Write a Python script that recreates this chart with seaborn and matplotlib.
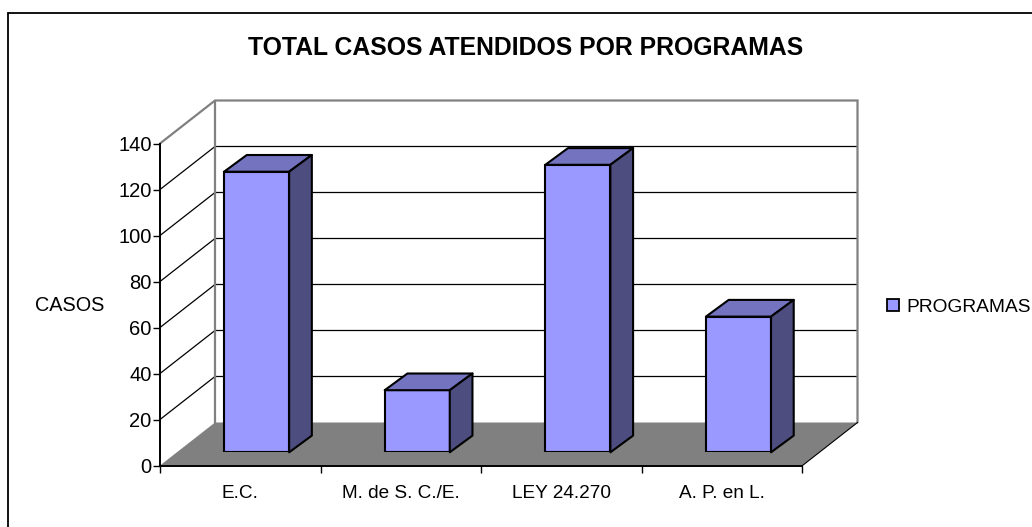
import matplotlib
matplotlib.use("Agg")
import matplotlib.pyplot as plt
import seaborn as sns
import pandas as pd
from matplotlib.patches import Polygon, Patch
from matplotlib.lines import Line2D
from matplotlib.transforms import IdentityTransform

categories = ["E.C.", "M. de S. C./E.", "LEY 24.270", "A. P. en L."]
values = [122, 27, 125, 59]
y_ticks = [0, 20, 40, 60, 80, 100, 120, 140]
title = "TOTAL CASOS ATENDIDOS POR PROGRAMAS"
y_label = "CASOS"
series_name = "PROGRAMAS"

W, H = 1032, 527
FRONT = "#9999FF"; SIDE = "#4D4D80"; TOP = "#7373BF"; FLOOR = "#808080"; WALL = "#808080"

sns.set_theme(style="white")
plt.rcParams["font.family"] = ["Liberation Sans", "DejaVu Sans"]

fig = plt.figure(figsize=(W / 100, H / 100), dpi=100, facecolor="white")

def rect(l, t, r, b):
    return [l / W, 1 - b / H, (r - l) / W, (b - t) / H]

ax = fig.add_axes(rect(160, 143.5, 802.5, 465.5))
ax_b = fig.add_axes(rect(176.3, 130.3, 818.8, 452.3))
for a in (ax, ax_b):
    a.set_ylim(0, 140)
df = pd.DataFrame({"cat": categories, "val": values})
sns.barplot(data=df, x="cat", y="val", ax=ax_b, color=FRONT, saturation=1, width=0.405,
            edgecolor="black", linewidth=1.5, zorder=5)
ax_b.set_xlim(-0.5, 3.5)
ax_b.set_ylim(0, 140)
ax_b.axis("off")
ax_b.patch.set_alpha(0)

ax.set_xlim(-0.5, 3.5)
ax.patch.set_alpha(0)
ax.set_xticks([i + 0.5 for i in range(-1, 4)], minor=False)
ax.set_xticklabels([""] * 5)
ax.set_xticks(range(4), categories, minor=True)
ax.tick_params(axis="x", which="major", length=5, width=1, color="black", bottom=True)
ax.tick_params(axis="x", which="minor", length=0, labelsize=13.7, pad=14, labelcolor="black")
ax.set_yticks(y_ticks)
ax.tick_params(axis="y", length=5, width=1, color="black", left=True, labelsize=14.5, pad=1, labelcolor="black")
for s in ("top", "right"):
    ax.spines[s].set_visible(False)
for s in ("left", "bottom"):
    ax.spines[s].set_visible(True)
    ax.spines[s].set_color("black")
    ax.spines[s].set_linewidth(1.4)
    ax.spines[s].set_zorder(4)
ax.set_xlabel("")
ax.set_ylabel(y_label, rotation=0, fontsize=14.3, color="black", ha="center", va="center")
ax.yaxis.set_label_coords(-0.14, 0.498)

DX, DY = 55, 43     # wall depth in pixels, display coords
BX, BY = 22.7, 16.7 # bar depth in pixels
ident = IdentityTransform()

x0, y0 = ax.transData.transform((-0.5, 0))
x1, _ = ax.transData.transform((3.5, 0))
_, ytop = ax.transData.transform((-0.5, y_ticks[-1]))

def add_poly(pts, **kw):
    fig.add_artist(Polygon(pts, closed=True, transform=ident, **kw))

def add_line(xs, ys, **kw):
    fig.add_artist(Line2D(xs, ys, transform=ident, **kw))

# Floor
add_poly([(x0, y0), (x1, y0), (x1 + DX, y0 + DY), (x0 + DX, y0 + DY)],
         facecolor=FLOOR, edgecolor="none", zorder=-5)
# Grid lines across the back wall and along the left wall
for v in y_ticks[1:-1]:
    _, y = ax.transData.transform((-0.5, v))
    add_line([x0, x0 + DX, x1 + DX], [y, y + DY, y + DY], color="black", lw=0.9, zorder=-4)
# Wall outline
add_line([x0, x0 + DX, x1 + DX, x1 + DX], [ytop, ytop + DY, ytop + DY, y0 + DY],
         color=WALL, lw=1.6, zorder=-3, solid_joinstyle="miter")
add_line([x0 + DX, x0 + DX], [ytop + DY, y0 + DY], color=WALL, lw=1.6, zorder=-3)
# Floor front-right edge
add_line([x1, x1 + DX], [y0, y0 + DY], color="black", lw=0.8, zorder=-3)

# Bar depth faces, taken from the seaborn bars
bars = list(ax_b.patches)
fig.canvas.draw()
for p in bars:
    (l, b), (r, t) = ax_b.transData.transform([(p.get_x(), p.get_y()),
                                               (p.get_x() + p.get_width(), p.get_height())])
    ax_b.add_patch(Polygon([(l, t), (r, t), (r + BX, t + BY), (l + BX, t + BY)], closed=True,
                           transform=ident, facecolor=TOP, edgecolor="black", lw=1.5, zorder=5,
                           joinstyle="round", clip_on=False))
    ax_b.add_patch(Polygon([(r, b), (r + BX, b + BY), (r + BX, t + BY), (r, t)], closed=True,
                           transform=ident, facecolor=SIDE, edgecolor="black", lw=1.5, zorder=5,
                           joinstyle="round", clip_on=False))

# Title and legend
fig.text(525.5 / W, 1 - 48 / H, title, ha="center", va="center", fontsize=17.8, fontweight="bold", color="black")
fig.legend(handles=[Patch(facecolor=FRONT, edgecolor="black", lw=1.3, label=series_name)],
           loc="center left", bbox_to_anchor=(887 / W, 1 - 307 / H), frameon=False,
           fontsize=13.8, handlelength=0.62, handleheight=0.62, handletextpad=0.4,
           borderpad=0, borderaxespad=0, labelcolor="black")

# Chart area border: left and top only are visible
add_line([7.5, 7.5], [0, H - 12.5], color="black", lw=1.3, zorder=10)
add_line([7.5, W], [H - 12.5, H - 12.5], color="black", lw=1.3, zorder=10)

fig.savefig("out.png", dpi=100)
